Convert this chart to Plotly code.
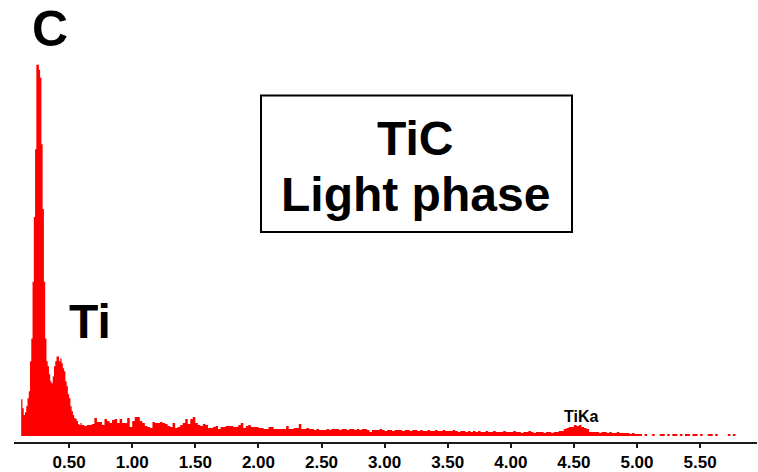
import numpy as np
import plotly.graph_objects as go

# EDS spectrum of the light TiC phase, counts per channel.
# Low-energy region (10 eV channels): C K line and Ti L lines.
low_start_kev = 0.12
low_step_kev = 0.01
low_counts = [
    370, 280, 210, 240, 300, 380, 450, 750, 980, 1550,
    2200, 2880, 3730, 3730, 3680, 3600, 2930, 2280, 1550, 980,
    750, 700, 620, 550, 530, 600, 700, 750, 800, 800,
    750, 780, 730, 680, 650, 550, 500, 420, 380, 300,
    250, 210, 180, 170, 150, 120, 110, 130,
]

# Continuum and Ti K region (20 eV channels)
bg_start_kev = 0.60
bg_step_kev = 0.02
bg_counts = [
    110, 100, 110, 110, 120, 180, 140, 140, 110, 170,
    150, 130, 160, 170, 130, 170, 130, 130, 180, 90,
    150, 190, 190, 150, 130, 100, 90, 80, 140, 130,
    130, 140, 130, 120, 100, 90, 130, 80, 90, 110,
    130, 170, 120, 170, 190, 130, 110, 100, 120, 110,
    80, 80, 90, 100, 70, 90, 90, 100, 100, 100,
    90, 90, 110, 130, 80, 100, 110, 90, 90, 90,
    80, 80, 70, 70, 90, 90, 70, 70, 70, 70,
    70, 100, 70, 70, 80, 80, 120, 70, 70, 80,
    70, 70, 60, 70, 60, 60, 60, 70, 60, 70,
    70, 70, 60, 70, 70, 60, 70, 70, 60, 70,
    60, 70, 70, 60, 40, 60, 60, 60, 70, 60,
    50, 60, 60, 50, 60, 60, 60, 50, 60, 60,
    50, 60, 60, 50, 60, 50, 50, 60, 50, 50,
    60, 50, 50, 60, 50, 50, 50, 60, 50, 40,
    50, 50, 40, 50, 40, 50, 40, 50, 40, 40,
    50, 40, 40, 50, 40, 40, 40, 50, 40, 40,
    40, 50, 40, 40, 30, 40, 40, 50, 40, 30,
    40, 40, 40, 30, 40, 40, 30, 40, 40, 50,
    50, 70, 80, 90, 90, 110, 100, 110, 90, 80,
    70, 40, 40, 40, 40, 30, 40, 40, 30, 40,
    30, 30, 40, 30, 30, 30, 30, 20, 30, 20,
    20, 20, 0, 20, 0, 0, 20, 0, 0, 20,
    20, 0, 20, 0, 20, 20, 0, 20, 0, 20,
    20, 0, 20, 20, 0, 20, 0, 0, 20, 20,
    0, 20, 0, 0, 0, 0, 20, 0, 20, 0,
]

tick_values = [0.5, 1.0, 1.5, 2.0, 2.5, 3.0, 3.5, 4.0, 4.5, 5.0, 5.5]
tick_labels = ["0.50", "1.00", "1.50", "2.00", "2.50", "3.00",
               "3.50", "4.00", "4.50", "5.00", "5.50"]

# Channel edges for a stepped (histogram-style) trace
low_edges = low_start_kev + low_step_kev * np.arange(len(low_counts))
bg_edges = bg_start_kev + bg_step_kev * np.arange(len(bg_counts))
end_edge = bg_edges[-1] + bg_step_kev
x_vals = np.concatenate([low_edges, bg_edges, [end_edge]])
y_vals = np.concatenate([low_counts, bg_counts, [bg_counts[-1]]])

W, H = 758, 472
M_L, M_R, M_T, M_B = 14, 1, 0, 28
PLOT_W = W - M_L - M_R
PLOT_H = H - M_T - M_B


def paper(px, py):
    """Page pixel position -> paper coordinates."""
    return (px - M_L) / PLOT_W, (H - M_B - py) / PLOT_H


FONT = "Liberation Sans, Arial, Helvetica, sans-serif"

fig = go.Figure()
fig.add_trace(go.Scatter(
    x=x_vals, y=y_vals,
    mode="lines",
    line=dict(shape="hv", width=0, color="#ff0000"),
    fill="tozeroy",
    fillcolor="#ff0000",
    hoverinfo="skip",
    showlegend=False,
))

annotations = []


def label(text, px, py, size, weight="bold"):
    ax, ay = paper(px, py)
    annotations.append(dict(
        text=text, x=ax, y=ay, xref="paper", yref="paper",
        xanchor="center", yanchor="middle", showarrow=False,
        font=dict(family=FONT, size=size, color="black", weight=weight),
    ))


label("C", 50, 29, 50)
label("Ti", 90, 323, 48)
label("TiC", 415, 139, 48)
label("Light phase", 415, 195, 48)
label("TiKa", 581, 418, 16)

bx0, by0 = paper(261, 233)
bx1, by1 = paper(572, 96)

fig.update_layout(
    width=W, height=H,
    margin=dict(l=M_L, r=M_R, t=M_T, b=M_B, pad=0),
    paper_bgcolor="white",
    plot_bgcolor="white",
    showlegend=False,
    annotations=annotations,
    shapes=[dict(
        type="rect", xref="paper", yref="paper",
        x0=bx0, y0=by0, x1=bx1, y1=by1,
        line=dict(color="black", width=2),
        fillcolor="rgba(0,0,0,0)",
    )],
    xaxis=dict(
        range=[0.063, 5.951],
        showgrid=False, zeroline=False,
        showline=True, linecolor="#1a1a1a", linewidth=1.5,
        ticks="outside", ticklen=4, tickwidth=1.5, tickcolor="#1a1a1a",
        tickvals=tick_values, ticktext=tick_labels,
        tickfont=dict(family=FONT, size=17, color="black", weight="bold"),
        fixedrange=True,
    ),
    yaxis=dict(
        range=[-60, 4380],
        visible=False, showgrid=False, zeroline=False,
        fixedrange=True,
    ),
)

fig.write_html("out.html")
